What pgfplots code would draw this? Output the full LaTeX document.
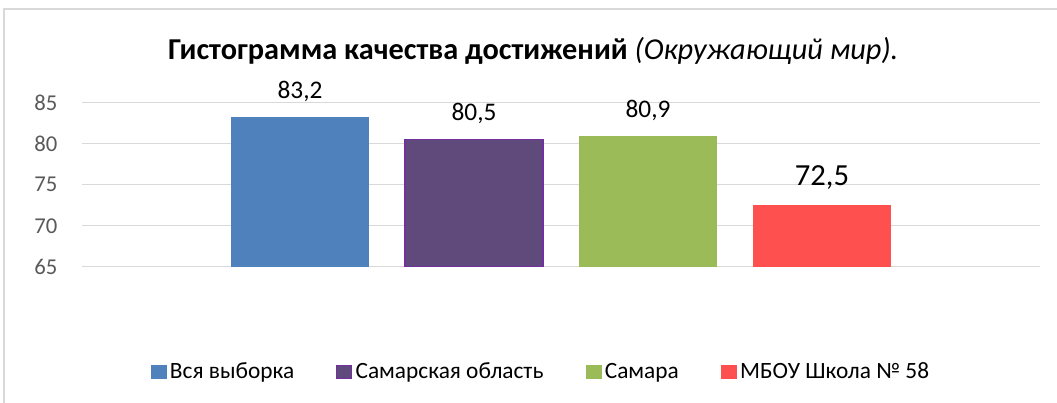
\documentclass[border=0pt]{standalone}
\usepackage{fontspec}
\setmainfont{Carlito}
\usepackage{pgfplots}
\pgfplotsset{compat=1.18}
\definecolor{cblue}{HTML}{4F81BD}
\definecolor{cpurple}{HTML}{604A7B}
\definecolor{cpurpleb}{HTML}{7030A0}
\definecolor{cgreen}{HTML}{9BBB59}
\definecolor{cred}{HTML}{FF5050}
\definecolor{gridgray}{HTML}{D9D9D9}
\definecolor{ticktext}{HTML}{595959}
\begin{document}
\begin{tikzpicture}
\useasboundingbox (0,0) rectangle (792.75pt,302.25pt);
\draw[color=gridgray, line width=1.2pt] (3pt,-5pt) -- (3pt,295.5pt) -- (800pt,295.5pt);
\begin{axis}[
  at={(61.5pt,102.2pt)}, anchor=south west,
  scale only axis, width=718.5pt, height=123pt,
  xmin=-0.5, xmax=0.5, ymin=65, ymax=85,
  ytick={65,70,75,80,85}, xtick=\empty,
  enlargelimits=false, clip=false,
  axis line style={draw=none}, major tick style={draw=none},
  ymajorgrids, grid style={color=gridgray, line width=0.9pt},
  /pgf/number format/assume math mode=true,
  yticklabel style={font=\fontsize{17}{20}\selectfont, text=ticktext, xshift=-15pt},
  ybar=27pt, bar width=103.5pt,
  nodes near coords={\pgfmathprintnumber[fixed,fixed zerofill,precision=1,use comma]{\pgfplotspointmeta}},
  nodes near coords style={anchor=base, yshift=14.25pt, text=black, font=\fontsize{19}{22}\selectfont},
  legend style={at={(0.4797,-0.642)}, anchor=center, draw=none, fill=none,
    legend columns=4, font=\fontsize{17.5}{20}\selectfont,
    /tikz/every even column/.append style={column sep=29pt},
    nodes={inner xsep=2.5pt, inner ysep=1.5pt}},
]
\addplot[fill=cblue, draw=none,
  legend image code/.code={\fill[cblue] (0pt,-5.5pt) rectangle (12pt,5.5pt);}] coordinates {(0,83.2)};
\addplot[fill=cpurple, draw=cpurpleb, line width=1pt,
  legend image code/.code={\draw[fill=cpurple, draw=cpurpleb, line width=0.9pt] (0.45pt,-5.05pt) rectangle (11.55pt,5.05pt);}] coordinates {(0,80.5)};
\addplot[fill=cgreen, draw=none,
  legend image code/.code={\fill[cgreen] (0pt,-5.5pt) rectangle (12pt,5.5pt);}] coordinates {(0,80.9)};
\addplot[fill=cred, draw=none, nodes near coords style={font=\fontsize{23}{26}\selectfont, yshift=0.75pt},
  legend image code/.code={\fill[cred] (0pt,-5.5pt) rectangle (12pt,5.5pt);}] coordinates {(0,72.5)};
\legend{Вся выборка, Самарская область, Самара, МБОУ Школа № 58}
\end{axis}
\node[anchor=base] at (400pt,257.25pt) {\fontsize{22.75}{26}\selectfont\bfseries Гистограмма качества достижений \mdseries\itshape (Окружающий мир).};
\end{tikzpicture}
\end{document}
